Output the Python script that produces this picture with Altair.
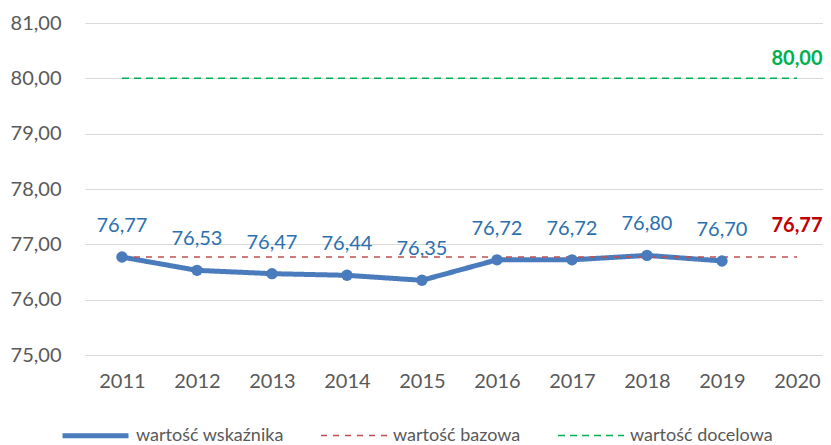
import altair as alt
import pandas as pd

# ---- data ----
years = [2011, 2012, 2013, 2014, 2015, 2016, 2017, 2018, 2019]
values = [76.77, 76.53, 76.47, 76.44, 76.35, 76.72, 76.72, 76.80, 76.70]
ref_years = [2011, 2020]
base_value = 76.77
target_value = 80.00
axis_years = [2011, 2012, 2013, 2014, 2015, 2016, 2017, 2018, 2019, 2020]
y_ticks = [75, 76, 77, 78, 79, 80, 81]
series_names = ["wartość wskaźnika", "wartość bazowa", "wartość docelowa"]


def fmt(v):
    return f"{v:.2f}".replace(".", ",")


rows = []
for yr, v in zip(years, values):
    rows.append({"rok": yr, "wartosc": v, "seria": series_names[0]})
for yr in ref_years:
    rows.append({"rok": yr, "wartosc": base_value, "seria": series_names[1]})
for yr in ref_years:
    rows.append({"rok": yr, "wartosc": target_value, "seria": series_names[2]})
lines_df = pd.DataFrame(rows)

main_df = pd.DataFrame({"rok": years, "wartosc": values,
                        "etykieta": [fmt(v) for v in values]})
base_df = pd.DataFrame({"rok": [ref_years[-1]], "wartosc": [base_value],
                        "etykieta": [fmt(base_value)]})
target_df = pd.DataFrame({"rok": [ref_years[-1]], "wartosc": [target_value],
                          "etykieta": [fmt(target_value)]})

BLUE = "#4A7BBD"
LABEL_BLUE = "#2A70B0"
RED = "#C0504D"
GREEN = "#00B050"
GREY = "#595959"
FONT = "Lato"

x_scale = alt.Scale(domain=[2010.507, 2020.347], nice=False, zero=False)
y_scale = alt.Scale(domain=[75, 81], nice=False, zero=False)

x_enc = alt.X(
    "rok:Q", scale=x_scale,
    axis=alt.Axis(values=axis_years, format="d", grid=False, domain=False,
                  ticks=False, labelPadding=16, labelFontSize=20,
                  labelColor=GREY, labelFont=FONT, title=None,
                  labelFlush=False, labelOverlap=False),
)
y_enc = alt.Y(
    "wartosc:Q", scale=y_scale,
    axis=alt.Axis(values=y_ticks, grid=True, gridColor="#D9D9D9",
                  gridWidth=1, domain=False, ticks=False, labelPadding=24,
                  labelFontSize=20, labelColor=GREY, labelFont=FONT,
                  title=None,
                  labelExpr="replace(format(datum.value, '.2f'), '.', ',')"),
)

leg = alt.Legend(title=None, orient="none", legendX=-25, legendY=377,
                 direction="horizontal", symbolType="stroke",
                 symbolSize=4356, labelFont=FONT, labelFontSize=18,
                 labelColor=GREY, labelOffset=5, columnPadding=34,
                 padding=0)

lines = alt.Chart(lines_df).mark_line().encode(
    x=x_enc,
    y=y_enc,
    color=alt.Color("seria:N", scale=alt.Scale(domain=series_names,
                                               range=[BLUE, RED, GREEN]),
                    legend=leg),
    strokeDash=alt.StrokeDash("seria:N",
                              scale=alt.Scale(domain=series_names,
                                              range=[[1, 0], [6, 6], [7, 5]]),
                              legend=leg),
    strokeWidth=alt.StrokeWidth("seria:N",
                                scale=alt.Scale(type="ordinal",
                                                domain=series_names,
                                                range=[5, 1.5, 1.5]),
                                legend=leg),
)

points = alt.Chart(main_df).mark_point(
    filled=True, shape="circle", size=130, color=BLUE, opacity=1
).encode(x="rok:Q", y="wartosc:Q")

main_labels = alt.Chart(main_df).mark_text(
    dy=-25, baseline="alphabetic", align="center", fontSize=20, font=FONT,
    color=LABEL_BLUE
).encode(x="rok:Q", y="wartosc:Q", text="etykieta:N")

base_label = alt.Chart(base_df).mark_text(
    dy=-25, baseline="alphabetic", align="center", fontSize=20, font=FONT,
    fontWeight="bold", color="#C00000"
).encode(x="rok:Q", y="wartosc:Q", text="etykieta:N")

target_label = alt.Chart(target_df).mark_text(
    dy=-13, baseline="alphabetic", align="center", fontSize=20, font=FONT,
    fontWeight="bold", color=GREEN
).encode(x="rok:Q", y="wartosc:Q", text="etykieta:N")

chart = alt.layer(lines, points, main_labels, base_label, target_label).properties(
    width=738,
    height=332,
    autosize=alt.AutoSizeParams(type="none"),
    padding={"left": 77, "top": 15, "right": 0, "bottom": 90},
    background="white",
).configure_view(stroke=None)

chart.save("out.html", embed_options={"renderer": "svg", "actions": False})
